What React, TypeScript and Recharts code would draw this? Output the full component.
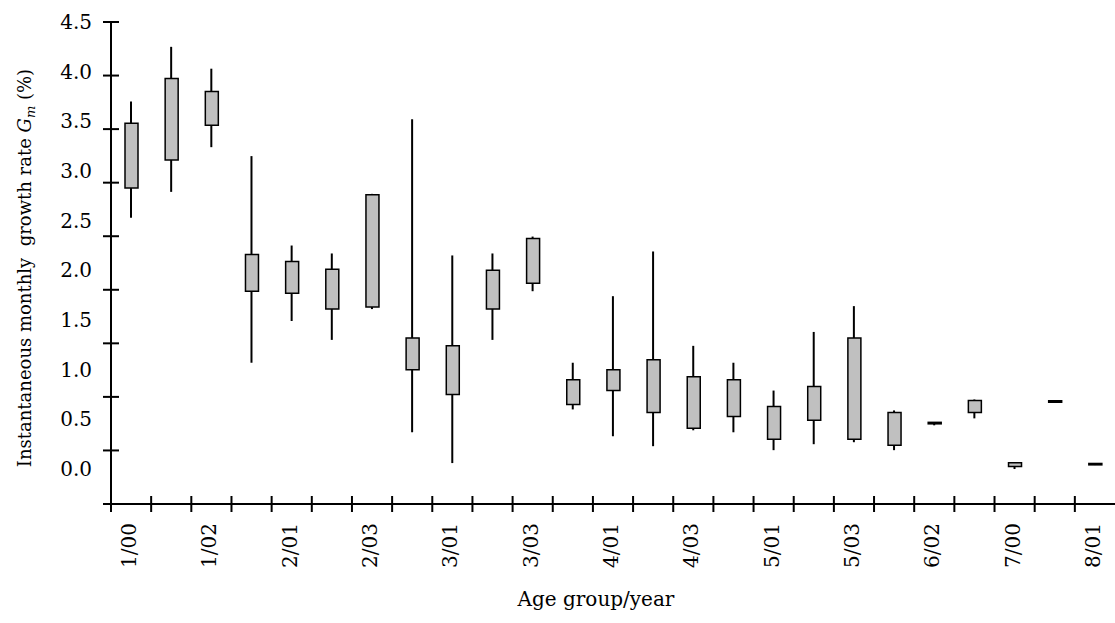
import React from "react";
import { ComposedChart, Bar, XAxis, YAxis, Label } from "recharts";

// Categories (age group / year); only every other one is labelled on the axis
const categories = [
  "1/00", "1/01", "1/02", "2/00", "2/01", "2/02", "2/03", "3/00", "3/01", "3/02",
  "3/03", "4/00", "4/01", "4/02", "4/03", "5/00", "5/01", "5/02", "5/03", "6/01",
  "6/02", "6/03", "7/00", "7/01", "8/01",
];
const labelledCategories = [
  "1/00", "1/02", "2/01", "2/03", "3/01", "3/03", "4/01", "4/03", "5/01", "5/03",
  "6/02", "7/00", "8/01",
];

// Instantaneous monthly growth rate Gm (%)
const lowValues = [2.53, 2.79, 3.24, 1.07, 1.49, 1.3, 1.61, 0.37, 0.06, 1.3, 1.79, 0.6, 0.33, 0.23, 0.39, 0.37, 0.19, 0.25, 0.27, 0.19, 0.44, 0.51, 0.0, 0.67, 0.04];
const boxBottomValues = [2.83, 3.11, 3.46, 1.79, 1.77, 1.61, 1.63, 1.0, 0.75, 1.61, 1.87, 0.65, 0.79, 0.57, 0.41, 0.53, 0.3, 0.49, 0.3, 0.24, 0.455, 0.57, 0.025, 0.672, 0.042];
const boxTopValues = [3.48, 3.93, 3.8, 2.16, 2.09, 2.01, 2.76, 1.32, 1.24, 2.0, 2.32, 0.9, 1.0, 1.1, 0.93, 0.9, 0.63, 0.83, 1.32, 0.57, 0.47, 0.69, 0.062, 0.688, 0.056];
const highValues = [3.7, 4.25, 4.03, 3.15, 2.25, 2.17, 2.77, 3.52, 2.15, 2.17, 2.34, 1.07, 1.74, 2.19, 1.24, 1.07, 0.79, 1.38, 1.64, 0.59, 0.47, 0.7, 0.065, 0.688, 0.056];

// Y tick labels
const yTickLabels = [0, 0.5, 1, 1.5, 2, 2.5, 3, 3.5, 4, 4.5];

const FONT = "'DejaVu Serif', serif";

const data = categories.map((c, i) => ({
  x: i,
  name: c,
  whisker: [lowValues[i], highValues[i]],
  box: [boxBottomValues[i], boxTopValues[i]],
}));

const labelledIdx = categories
  .map((c, i) => (labelledCategories.includes(c) ? i : -1))
  .filter((i) => i >= 0);
const boundaryTicks = categories.map((_, i) => i - 0.5);
const xTicks = [...boundaryTicks, ...labelledIdx].sort((a, b) => a - b);

const XTick = (props: any) => {
  const { x, y, payload } = props;
  const v = payload.value as number;
  if (!Number.isInteger(v)) {
    return <line x1={x} x2={x} y1={y - 8} y2={y + 8} stroke="#000" strokeWidth={2} />;
  }
  const ty = y + 19;
  return (
    <text
      x={x}
      y={ty}
      transform={`rotate(-90 ${x} ${ty})`}
      textAnchor="end"
      dy="0.25em"
      fill="#000"
      fontSize={20}
      fontFamily={FONT}
    >
      {categories[v]}
    </text>
  );
};

const FrameYTick = (props: any) => {
  const { x, y } = props;
  return <line x1={x - 8} x2={x + 8} y1={y} y2={y} stroke="#000" strokeWidth={2} />;
};

const YTitle = (props: any) => {
  const vb = props.viewBox || { x: 0, y: 22, width: 111, height: 482 };
  const cx = vb.x + 31;
  const cy = vb.y + vb.height / 2 + 5;
  return (
    <text
      x={cx}
      y={cy}
      transform={`rotate(-90 ${cx} ${cy})`}
      textAnchor="middle"
      fill="#000"
      fontSize={18}
      fontFamily={FONT}
    >
      Instantaneous monthly{"\u00a0 "}growth rate{" "}
      <tspan fontStyle="italic">G</tspan>
      <tspan fontStyle="italic" fontSize={13} dy={4}>m</tspan>
      <tspan dy={-4}>{"\u00a0(%)"}</tspan>
    </text>
  );
};

const XTitle = (props: any) => {
  const vb = props.viewBox || { x: 111, y: 504, width: 1004, height: 119 };
  return (
    <text
      x={vb.x + vb.width / 2 - 17}
      y={vb.y + 102}
      textAnchor="middle"
      fill="#000"
      fontSize={20}
      fontFamily={FONT}
    >
      Age group/year
    </text>
  );
};

export default function App() {
  return (
    <div style={{ position: "absolute", left: 0, top: 0, background: "#fff" }}>
      <ComposedChart
        width={1115}
        height={623}
        data={data}
        margin={{ top: 22, right: 0, bottom: 0, left: 0 }}
      >
        <XAxis
          dataKey="x"
          type="number"
          domain={[-0.5, 24.5]}
          allowDataOverflow
          ticks={xTicks}
          interval={0}
          tick={<XTick />}
          tickLine={false}
          tickSize={0}
          tickMargin={0}
          height={119}
          axisLine={{ stroke: "#000", strokeWidth: 2 }}
        >
          <Label content={<XTitle />} />
        </XAxis>
        <XAxis
          xAxisId="box"
          dataKey="x"
          type="number"
          domain={[-0.5, 24.5]}
          allowDataOverflow
          hide
        />
        <YAxis
          type="number"
          domain={[-0.352, 4.5]}
          allowDataOverflow
          ticks={yTickLabels}
          interval={0}
          width={111}
          tickSize={0}
          tickMargin={19}
          tickLine={false}
          axisLine={false}
          tickFormatter={(v: number) => v.toFixed(1)}
          tick={{ fill: "#000", fontSize: 20, fontFamily: FONT }}
        >
          <Label content={<YTitle />} />
        </YAxis>
        <YAxis
          yAxisId="frame"
          type="number"
          domain={[0, 4.5]}
          allowDataOverflow
          ticks={yTickLabels}
          interval={0}
          mirror
          tickSize={0}
          tickMargin={0}
          tickLine={false}
          tick={<FrameYTick />}
          axisLine={{ stroke: "#000", strokeWidth: 2 }}
        />
        <Bar
          dataKey="whisker"
          barSize={2}
          fill="#000"
          isAnimationActive={false}
        />
        <Bar
          dataKey="box"
          xAxisId="box"
          barSize={13}
          fill="#c0c0c0"
          stroke="#000"
          strokeWidth={1.5}
          isAnimationActive={false}
        />
      </ComposedChart>
    </div>
  );
}
